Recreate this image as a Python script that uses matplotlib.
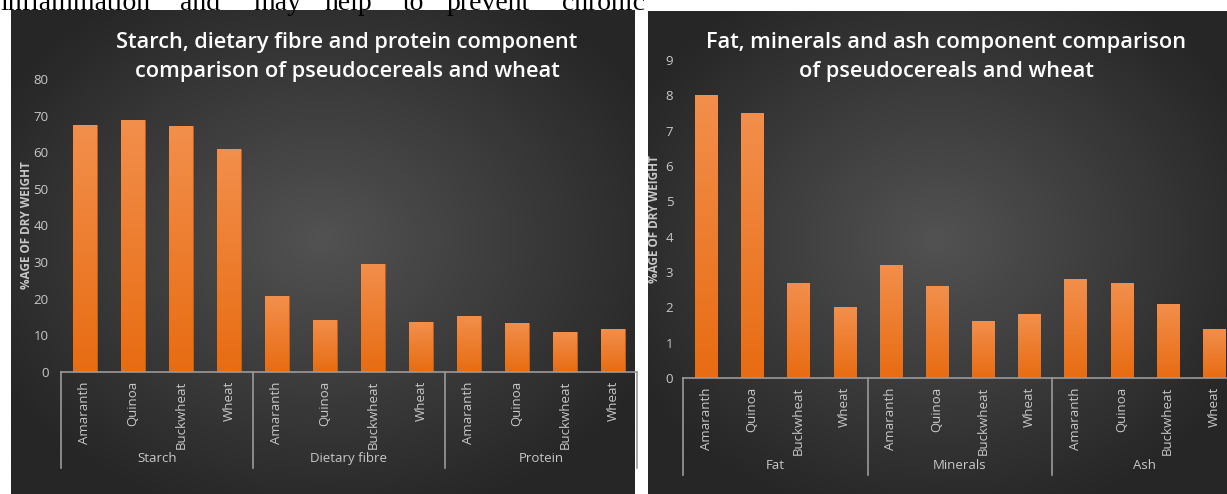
import matplotlib.pyplot as plt
import matplotlib.transforms as mtransforms
from matplotlib.colors import LinearSegmentedColormap
import numpy as np

# data
grains = ["Amaranth", "Quinoa", "Buckwheat", "Wheat"]
groups_left = ["Starch", "Dietary fibre", "Protein"]
starch = [67.4, 68.9, 67.2, 61.0]
fibre = [20.7, 14.2, 29.5, 13.6]
protein = [15.3, 13.4, 10.8, 11.7]

groups_right = ["Fat", "Minerals", "Ash"]
fat = [8.0, 7.5, 2.7, 2.0]
minerals = [3.2, 2.6, 1.6, 1.8]
ash = [2.8, 2.7, 2.1, 1.4]

title_left = "Starch, dietary fibre and protein component\ncomparison of pseudocereals and wheat"
title_right = "Fat, minerals and ash component comparison\nof pseudocereals and wheat"
ylabel = "%AGE OF DRY WEIGHT"
top_words = ["inflammation", "and", "may", "help", "to", "prevent", "chronic"]

W, H = 1227, 494
FONT = "Open Sans"
TICK_C = "#c8c8c8"
LINE_C = "#9a9a9a"

bg_cmap = LinearSegmentedColormap.from_list("bg", ["#525252", "#3c3c3c", "#262626"])
bar_cmap = LinearSegmentedColormap.from_list("bar", ["#e86c12", "#f28f4c"])

fig = plt.figure(figsize=(W / 100, H / 100), dpi=100)
fig.patch.set_facecolor("white")


def px(x0, y0, x1, y1):
    # pixel box (top-left origin) -> figure rect
    return [x0 / W, 1 - y1 / H, (x1 - x0) / W, (y1 - y0) / H]


def panel(rect):
    bg = fig.add_axes(rect, zorder=0)
    yy, xx = np.mgrid[-1:1:200j, -1:1:300j]
    r = np.sqrt(xx ** 2 + (yy + 0.05) ** 2) / np.sqrt(2)
    bg.imshow(r, cmap=bg_cmap, aspect="auto", extent=[0, 1, 0, 1],
              vmin=0, vmax=0.85, interpolation="bicubic")
    bg.set_axis_off()


def chart(rect, groups, series, ymax, ystep, bw, label_pad, ylab_x, group_y, sep_y):
    ax = fig.add_axes(rect, zorder=2)
    ax.patch.set_alpha(0)
    vals = [v for s in series for v in s]
    n = len(vals)
    x = np.arange(n)
    bars = ax.bar(x, vals, width=bw, color="#ec7a2d", edgecolor="#c0611f", linewidth=0.6)
    grad = np.linspace(0, 1, 100).reshape(-1, 1)
    for b in bars:
        im = ax.imshow(grad, cmap=bar_cmap, aspect="auto", origin="lower",
                       extent=[b.get_x(), b.get_x() + b.get_width(), 0, b.get_height()],
                       zorder=2)
        im.set_clip_path(b)
    ax.set_xlim(-0.5, n - 0.5)
    ax.set_ylim(0, ymax)
    ax.set_yticks(np.arange(0, ymax + ystep / 2, ystep))
    ax.tick_params(axis="y", length=0, pad=label_pad, colors=TICK_C, labelsize=9.5)
    ax.set_xticks([])
    for s in ax.spines.values():
        s.set_visible(False)
    for t in ax.get_yticklabels():
        t.set_fontfamily(FONT)
    ax.set_ylabel(ylabel, color=TICK_C, fontsize=8.5, fontweight="bold", family=FONT)
    wpx = rect[2] * W
    ax.yaxis.set_label_coords(ylab_x / wpx, 0.5)
    ax.yaxis.label.set_va("center")

    # multi-level category axis
    trans = mtransforms.blended_transform_factory(ax.transData, ax.transAxes)
    hpx = rect[3] * H
    ax.plot([-0.5, n - 0.5], [0, 0], color=LINE_C, lw=1.2, transform=trans, clip_on=False)
    for gx in np.arange(-0.5, n, 4):
        ax.plot([gx, gx], [0, -sep_y / hpx], color=LINE_C, lw=1.2,
                transform=trans, clip_on=False)
    for i in range(n):
        ax.text(x[i], -9 / hpx, grains[i % 4], rotation=90, ha="center", va="top",
                color=TICK_C, fontsize=9.5, family=FONT, transform=trans)
    for g, name in enumerate(groups):
        ax.text(g * 4 + 1.5, -group_y / hpx, name, ha="center", va="center",
                color=TICK_C, fontsize=9.5, family=FONT, transform=trans)
    return ax


panel(px(11, 10, 635, 494))
panel(px(648, 11, 1227, 494))

chart(px(61, 79, 637, 372), groups_left, [starch, fibre, protein],
      80, 10, 0.5, 9, -34, 86, 96)
chart(px(683, 60, 1237, 378), groups_right, [fat, minerals, ash],
      9, 1, 0.48, 7, -28, 87, 97)

fig.text(347 / W, 1 - 57 / H, title_left, ha="center", va="center", color="white",
         fontsize=15.7, fontweight="semibold", family=FONT, linespacing=1.5, zorder=3)
fig.text(946 / W, 1 - 57 / H, title_right, ha="center", va="center", color="white",
         fontsize=15.7, fontweight="semibold", family=FONT, linespacing=1.5, zorder=3)

# running text cut off above the figures
word_x = [0, 180, 253, 325, 403, 447, 562]
for w, xw in zip(top_words, word_x):
    fig.text(xw / W, 1 - 10 / H, w, ha="left", va="baseline", color="black",
             fontsize=20, family="Liberation Serif")

fig.savefig("out.png", dpi=100, facecolor=fig.get_facecolor())
